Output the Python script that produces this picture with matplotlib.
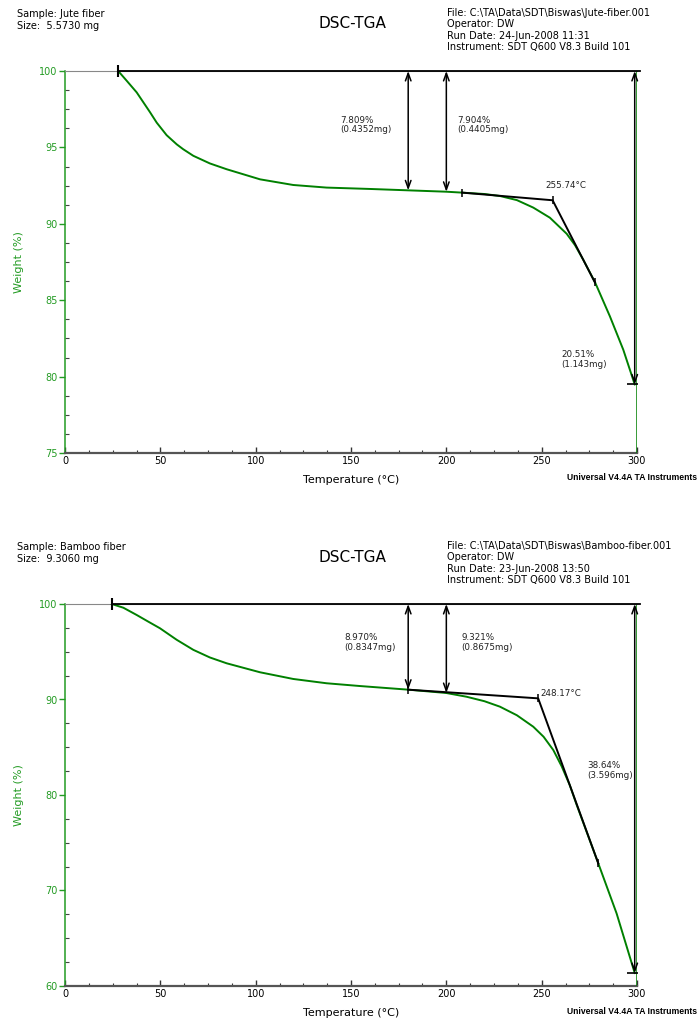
import matplotlib
matplotlib.use('Agg')
import matplotlib.pyplot as plt
from matplotlib.ticker import MultipleLocator

plt.rcParams['font.family'] = ['DejaVu Sans']

# ================= DATA =================
# Jute fiber (top panel)
jute_T = [27.9, 32.3, 37.6, 41.1, 44.6, 48.1, 53.3, 58.6, 62.0, 67.3, 76.0, 84.8, 102.3,
          119.7, 137.2, 160.0, 180.0, 200.0, 208.3, 220.0, 228.1, 237.0, 245.6, 254.3,
          263.1, 267.5, 271.8, 278.0, 285.8, 292.8, 298.8]
jute_W = [100.0, 99.37, 98.6, 97.95, 97.3, 96.62, 95.8, 95.2, 94.88, 94.45, 93.95, 93.57,
          92.91, 92.54, 92.37, 92.28, 92.19, 92.10, 92.04, 91.95, 91.82, 91.55, 91.06, 90.40,
          89.35, 88.6, 87.65, 86.17, 83.94, 81.76, 79.49]
jute_tan_T = [208.3, 255.74, 277.9]
jute_tan_W = [92.04, 91.54, 86.17]
jute_step_T = [180.0, 200.0, 298.8]
jute_step_pct = [7.809, 7.904, 20.51]
jute_step_lbl = ['7.809%\n(0.4352mg)', '7.904%\n(0.4405mg)', '20.51%\n(1.143mg)']
jute_onset_lbl = '255.74°C'
jute_header = ['Sample: Jute fiber', 'Size:  5.5730 mg']
jute_file = ['File: C:\\TA\\Data\\SDT\\Biswas\\Jute-fiber.001', 'Operator: DW',
             'Run Date: 24-Jun-2008 11:31', 'Instrument: SDT Q600 V8.3 Build 101']

# Bamboo fiber (bottom panel)
bamboo_T = [24.5, 30.6, 37.6, 43.7, 49.8, 58.6, 67.3, 76.0, 84.8, 102.3, 119.7, 137.2,
            154.7, 180.0, 200.0, 210.6, 220.0, 228.1, 237.0, 245.6, 251.0, 256.1, 260.5,
            264.8, 268.3, 279.7, 289.3, 298.8]
bamboo_W = [100.0, 99.61, 98.85, 98.15, 97.46, 96.25, 95.2, 94.4, 93.79, 92.85, 92.15,
            91.70, 91.41, 91.03, 90.68, 90.29, 89.82, 89.25, 88.35, 87.15, 86.1, 84.71, 83.0,
            81.0, 79.0, 72.84, 67.6, 61.36]
bamboo_tan_T = [180.0, 248.17, 279.7]
bamboo_tan_W = [91.03, 90.12, 72.84]
bamboo_step_T = [180.0, 200.0, 298.8]
bamboo_step_pct = [8.970, 9.321, 38.64]
bamboo_step_lbl = ['8.970%\n(0.8347mg)', '9.321%\n(0.8675mg)', '38.64%\n(3.596mg)']
bamboo_onset_lbl = '248.17°C'
bamboo_header = ['Sample: Bamboo fiber', 'Size:  9.3060 mg']
bamboo_file = ['File: C:\\TA\\Data\\SDT\\Biswas\\Bamboo-fiber.001', 'Operator: DW',
               'Run Date: 23-Jun-2008 13:50', 'Instrument: SDT Q600 V8.3 Build 101']

W_PX, H_PX = 699, 1021
CURVE = '#008000'
LABEL_GREEN = '#239b23'


def fx(px):
    return px / W_PX


def fy(py):
    return 1 - py / H_PX


def draw_panel(fig, top_px, ylim, ystep, T, W, tan_T, tan_W, step_T, step_pct, step_lbl,
               lbl_xy, onset_lbl, onset_xy, header, file_lines):
    ax = fig.add_axes([fx(65), fy(top_px + 382), 572 / W_PX, 382 / H_PX])

    # ---- header texts ----
    hy = top_px - 57
    fig.text(fx(17), fy(hy), header[0], fontsize=7, va='center')
    fig.text(fx(17), fy(hy + 12), header[1], fontsize=7, va='center')
    fig.text(fx(352), fy(hy + 10), 'DSC-TGA', fontsize=11, ha='center', va='center')
    for i, line in enumerate(file_lines):
        fig.text(fx(447), fy(hy - 1 + i * 11.3), line, fontsize=7, va='center')

    # ---- curve ----
    ax.plot(T, W, color=CURVE, lw=1.4, zorder=3)
    ax.axvline(300.2, color=CURVE, lw=1.1, zorder=3)

    # plateau line at 100%
    ax.plot([T[0], 301.5], [100, 100], color='k', lw=1.3, clip_on=False, zorder=4)
    ax.plot([T[0]], [100], marker='|', color='k', ms=8, mew=1.5, clip_on=False, zorder=4)

    # ---- step arrows ----
    for x, pct, lbl, xy in zip(step_T, step_pct, step_lbl, lbl_xy):
        ax.annotate('', xy=(x, 100 - pct), xytext=(x, 100),
                    arrowprops=dict(arrowstyle='<->,head_length=0.55,head_width=0.2',
                                    color='k', lw=1.1, shrinkA=0, shrinkB=0),
                    annotation_clip=False, zorder=5)
        ax.text(xy[0], xy[1], lbl, fontsize=6.3, color='#222222', va='center', ha='left',
                linespacing=1.05)
    ax.plot([step_T[-1]], [100 - step_pct[-1]], marker='_', color='k', ms=11, mew=1.2, zorder=5)

    # ---- onset tangents ----
    ax.plot(tan_T, tan_W, color='k', lw=1.4, zorder=4)
    ax.plot(tan_T, tan_W, ls='none', marker='|', color='k', ms=6, mew=1.1, zorder=4)
    ax.text(onset_xy[0], onset_xy[1], onset_lbl, fontsize=6.3, color='#222222', va='center',
            ha='left')

    # ---- axes ----
    ax.set_xlim(0, 300)
    ax.set_ylim(*ylim)
    ax.xaxis.set_major_locator(MultipleLocator(50))
    ax.xaxis.set_minor_locator(MultipleLocator(12.5))
    ax.yaxis.set_major_locator(MultipleLocator(ystep))
    ax.yaxis.set_minor_locator(MultipleLocator(ystep / 4))
    ax.tick_params(axis='x', which='major', direction='in', length=4, width=1, pad=2,
                   labelsize=7, color='#333333')
    ax.tick_params(axis='x', which='minor', direction='in', length=2.5, width=0.8,
                   color='#333333')
    ax.tick_params(axis='y', which='major', direction='out', length=4, width=1, pad=1.5,
                   labelsize=7, color=LABEL_GREEN, labelcolor=LABEL_GREEN)
    ax.tick_params(axis='y', which='minor', direction='in', length=3, width=0.8,
                   color='#444444')

    ax.spines['right'].set_visible(False)
    ax.spines['top'].set_color('#888888')
    ax.spines['top'].set_linewidth(0.8)
    ax.spines['left'].set_color(LABEL_GREEN)
    ax.spines['left'].set_linewidth(1.1)
    ax.spines['bottom'].set_color('#555555')
    ax.spines['bottom'].set_linewidth(1.6)

    ax.set_ylabel('Weight (%)', fontsize=8, color=LABEL_GREEN)
    ax.yaxis.set_label_coords(-0.072, 0.5)
    ax.set_xlabel('Temperature (°C)', fontsize=8)
    ax.xaxis.set_label_coords(0.5, -0.058)
    ax.xaxis.label.set_va('top')

    fig.text(fx(697), fy(top_px + 407), 'Universal V4.4A TA Instruments', fontsize=6.2,
             fontweight='bold', ha='right', va='center', family='Liberation Sans')
    return ax


# ================= FIGURE =================
fig = plt.figure(figsize=(W_PX / 100, H_PX / 100), dpi=100)

draw_panel(fig, 71, (75, 100), 5, jute_T, jute_W, jute_tan_T, jute_tan_W,
           jute_step_T, jute_step_pct, jute_step_lbl,
           [(144.6, 96.46), (205.7, 96.46), (260.1, 81.13)],
           jute_onset_lbl, (251.7, 92.52), jute_header, jute_file)

draw_panel(fig, 604, (60, 100), 10, bamboo_T, bamboo_W, bamboo_tan_T, bamboo_tan_W,
           bamboo_step_T, bamboo_step_pct, bamboo_step_lbl,
           [(146.5, 95.97), (208.0, 95.97), (274.1, 82.55)],
           bamboo_onset_lbl, (249.4, 90.58), bamboo_header, bamboo_file)

plt.savefig('out.png', dpi=100)
plt.close()
